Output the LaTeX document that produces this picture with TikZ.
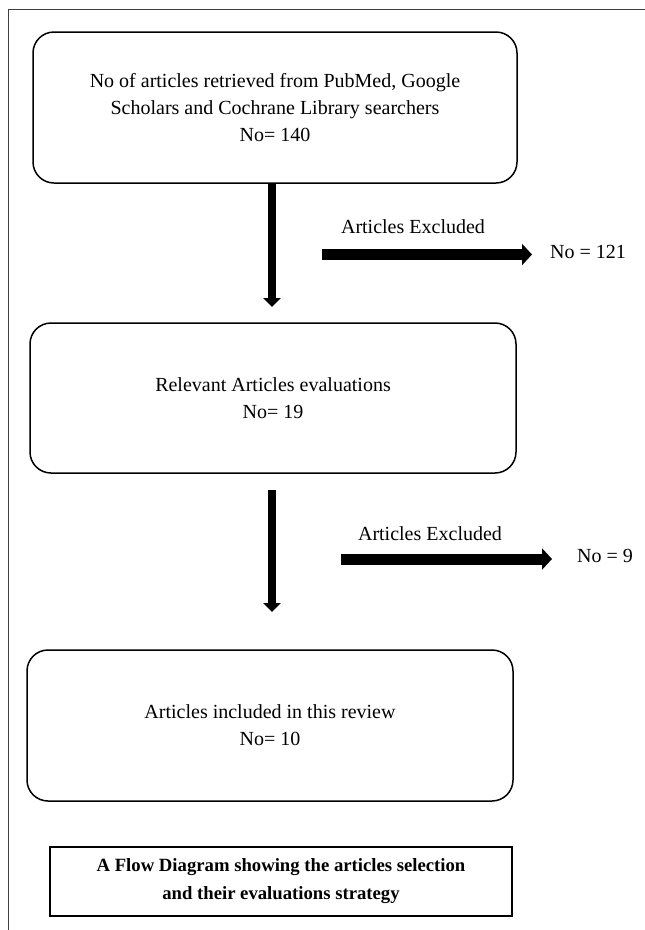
\documentclass[tikz,border=0pt]{standalone}
\usepackage{fontspec}
\setmainfont{Liberation Serif}
\usetikzlibrary{arrows.meta}
\begin{document}
\begin{tikzpicture}[x=1pt,y=-1pt,
  roundbox/.style={draw, line width=1.5pt, rounded corners=21pt, align=center,
    font=\fontsize{20}{27}\selectfont, inner sep=0pt},
  captionbox/.style={draw, line width=1.2pt, align=center, inner sep=0pt,
    font=\fontsize{18.7}{28}\selectfont\bfseries},
  lbl/.style={font=\fontsize{20}{24}\selectfont, inner sep=0pt},
  vdown/.style={line width=8pt, -{Triangle[length=9pt,width=17pt]}},
  hright/.style={line width=11pt, -{Triangle[length=10pt,width=21pt]}}
]
\useasboundingbox (0,0) rectangle (645,930);
\fill[white] (0,0) rectangle (645,930);
% frame
\draw[line width=1pt, black!75] (8,930) -- (8,9.5) -- (645,9.5);

\node[roundbox, minimum width=484pt, minimum height=151pt] (b1) at (275,107.5)
  {No of articles retrieved from PubMed, Google\\Scholars and Cochrane Library searchers\\No= 140};
\node[roundbox, minimum width=486pt, minimum height=150pt] (b2) at (273,398)
  {Relevant Articles evaluations\\No= 19};
\node[roundbox, minimum width=486pt, minimum height=151pt] (b3) at (270,725.5)
  {Articles included in this review\\No= 10};
\node[captionbox, minimum width=462pt, minimum height=69pt] (cap) at (281,881.5)
  {A Flow Diagram showing the articles selection\\and their evaluations strategy};

% vertical arrows
\coordinate (v1e) at (272,307);
\draw[vdown] (b1.south -| v1e) -- (v1e);
\coordinate (v2s) at (272,490);
\coordinate (v2e) at (272,612);
\draw[vdown] (v2s) -- (v2e);

% excluded 1
\node[lbl] (ex1) at (413,227) {Articles Excluded};
\coordinate (h1s) at (322,254.5);
\coordinate (h1e) at (532,254.5);
\draw[hright] (h1s) -- (h1e);
\node[lbl, anchor=west] (n1) at (550,252) {No = 121};

% excluded 2
\node[lbl] (ex2) at (430,534) {Articles Excluded};
\coordinate (h2s) at (341,559);
\coordinate (h2e) at (552,559);
\draw[hright] (h2s) -- (h2e);
\node[lbl, anchor=west] (n2) at (577,556) {No = 9};
\end{tikzpicture}
\end{document}
